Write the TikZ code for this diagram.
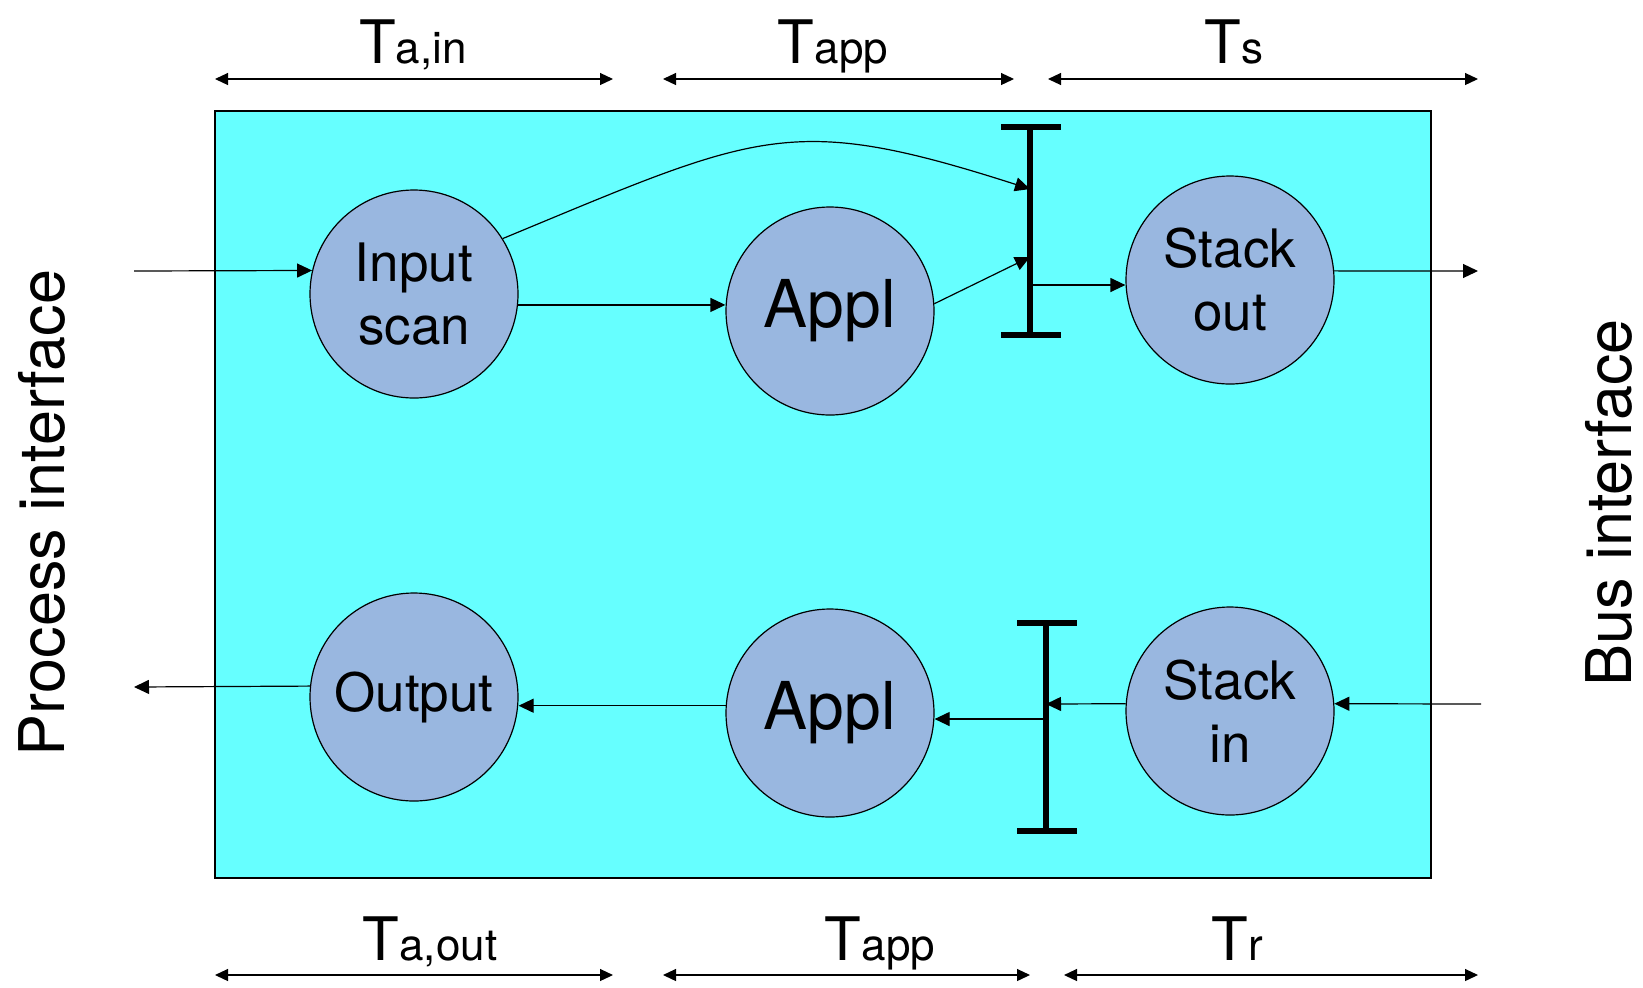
\documentclass[tikz,border=0pt]{standalone}
\usepackage{fontspec}
\setmainfont{TeX Gyre Heros}
\usetikzlibrary{arrows.meta}

\definecolor{boxcyan}{RGB}{102,255,255}
\definecolor{taskblue}{RGB}{153,183,224}

\tikzset{every picture/.style={line width=0.6pt}}
\tikzset{
  task/.style={circle,draw,fill=taskblue,minimum size=104pt,inner sep=0pt,align=center,font=\fontsize{26.5}{31.5}\selectfont},
  applfont/.style={font=\fontsize{33}{33}\selectfont},
  flow/.style={-{Triangle[length=7.5pt,width=7pt]}},
  span/.style={{Triangle[length=6.5pt,width=6pt]}-{Triangle[length=6.5pt,width=6pt]}},
  latch/.style={line width=2.8pt},
  tlabel/.style={anchor=base,inner sep=0pt,font=\fontsize{30}{30}\selectfont},
  sidelabel/.style={rotate=90,inner sep=0pt,font=\fontsize{31.5}{32}\selectfont}
}
\newcommand{\subsc}[1]{{\fontsize{22}{22}\selectfont #1}}

\begin{document}
\begin{tikzpicture}[x=0.5pt,y=0.5pt,yscale=-1,xscale=1]
\useasboundingbox (0,0) rectangle (1643,987);

%Module box
\draw [fill=boxcyan] (215,111) rectangle (1431,878);

% Tasks
\node [task] (inscan) at (414,294) {Input\\scan};
\node [task,applfont] (appltop) at (830,311) {Appl};
\node [task] (stackout) at (1230,280) {Stack\\out};
\node [task] (output) at (414,697) {Output};
\node [task,applfont] (applbot) at (830,713) {Appl};
\node [task] (stackin) at (1230,711) {Stack\\in};

% Latches
\draw [latch] (1030,127) -- (1030,335);
\draw [latch] (1001,127) -- (1061,127);
\draw [latch] (1001,335) -- (1061,335);
\draw [latch] (1046,623) -- (1046,831);
\draw [latch] (1017,623) -- (1077,623);
\draw [latch] (1017,831) -- (1077,831);

% Free ends
\coordinate (procin) at (134,271);
\coordinate (procout) at (134,687);
\coordinate (busout) at (1478,271);
\coordinate (busin) at (1481,704);
\coordinate (latchA) at (1030,189);
\coordinate (latchB) at (1030,257);
\coordinate (latchC) at (1030,285);
\coordinate (latchD) at (1046,704);
\coordinate (latchE) at (1046,719);

%Upper flow
\draw [flow] (procin) -- (inscan.167);
\draw [flow] (inscan.-6) -- (inscan.-6 -| appltop.west);
\draw [flow] (inscan.32) .. controls (760,132) and (790,112) .. (latchA);
\draw [flow] (appltop.4) -- (latchB);
\draw [flow] (latchC) -- (latchC -| stackout.west);
\draw [flow] (stackout.5) -- (busout);

%Lower flow
\draw [flow] (busin) -- (stackin.4);
\draw [flow] (stackin.176) -- (latchD);
\draw [flow] (latchE) -- (latchE -| applbot.east);
\draw [flow] (applbot.176) -- (applbot.176 -| output.east);
\draw [flow] (output.174) -- (procout);

%Time spans
\draw [span] (215,79) -- (613,79);
\draw [span] (663,79) -- (1014,79);
\draw [span] (1048,79) -- (1478,79);
\draw [span] (215,975) -- (613,975);
\draw [span] (663,975) -- (1030,975);
\draw [span] (1064,975) -- (1478,975);

% Text Node
\node [tlabel] (tain) at (413,63) {T\subsc{a,in}};
\node [tlabel] (tapptop) at (833,63) {T\subsc{app}};
\node [tlabel] (ts) at (1234,63) {T\subsc{s}};
\node [tlabel] (taout) at (430,960) {T\subsc{a,out}};
\node [tlabel] (tappbot) at (880,960) {T\subsc{app}};
\node [tlabel] (tr) at (1237,960) {T\subsc{r}};
\node [sidelabel] (procif) at (42,513) {Process interface};
\node [sidelabel] (busif) at (1609,503) {Bus interface};

\end{tikzpicture}
\end{document}
